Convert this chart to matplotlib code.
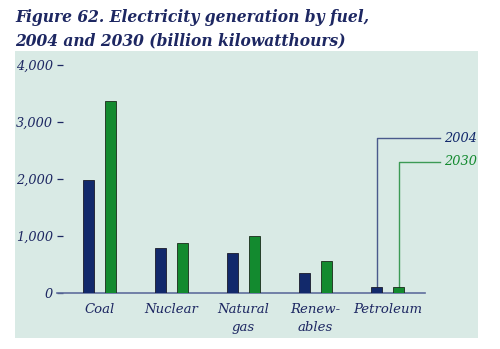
import matplotlib.pyplot as plt
import numpy as np
from matplotlib.patches import Rectangle

# electricity generation by fuel, billion kWh
fuels = ["Coal", "Nuclear", "Natural\ngas", "Renew-\nables", "Petroleum"]
gen_2004 = [1980, 800, 700, 360, 115]
gen_2030 = [3365, 875, 1000, 565, 115]
years = ["2004", "2030"]
yticks = [0, 1000, 2000, 3000, 4000]

navy = "#12296b"
green = "#138a2f"
text_col = "#1d2762"
bg = "#d9eae5"

plt.rcParams["font.family"] = ["DejaVu Serif"]

fig = plt.figure(figsize=(5, 3.49), dpi=100)
fig.patch.set_facecolor("white")

# shaded panel behind the plot
fig.patches.append(Rectangle((15 / 500, 11 / 349), 463 / 500, 287 / 349,
                             transform=fig.transFigure, facecolor=bg,
                             edgecolor="none", zorder=-5))

fig.text(15 / 500, 1 - 17 / 349, "Figure 62. Electricity generation by fuel,",
         fontsize=11.2, fontweight="bold", style="italic", color=text_col,
         va="center", ha="left")
fig.text(15 / 500, 1 - 41 / 349, "2004 and 2030 (billion kilowatthours)",
         fontsize=11.2, fontweight="bold", style="italic", color=text_col,
         va="center", ha="left")

ax = fig.add_axes([57 / 500, (349 - 293.3) / 349, 368 / 500, 228.6 / 349])
ax.set_facecolor("none")

x = np.arange(len(fuels))
w = 0.16
off = 0.153
b1 = ax.bar(x - off, gen_2004, w, color=navy, edgecolor="#1a1a2a", linewidth=0.6, zorder=3)
b2 = ax.bar(x + off, gen_2030, w, color=green, edgecolor="#1a2a1a", linewidth=0.6, zorder=3)

ax.set_xlim(-0.59, 4.52)
ax.set_ylim(0, 4000)

for s in ["top", "right", "left"]:
    ax.spines[s].set_visible(False)
ax.spines["bottom"].set_color("#5f6e9c")
ax.spines["bottom"].set_linewidth(1.2)

ax.set_yticks(yticks)
ax.set_yticklabels([f"{v:,}" for v in yticks], fontsize=9.3, style="italic",
                   color=text_col)
ax.tick_params(axis="y", direction="in", length=4, width=0.9, color=text_col, pad=3)
ax.set_xticks(x)
ax.set_xticklabels(fuels, fontsize=9.5, style="italic", color=text_col,
                   linespacing=1.5)
ax.tick_params(axis="x", length=0, pad=7)

# leader lines from the petroleum bars to the series labels
px = x[-1]
ax.plot([px - off, px - off, 4.73], [gen_2004[-1], 2715, 2715], color="#4a5a8c",
        linewidth=1, clip_on=False, zorder=2)
ax.plot([px + off, px + off, 4.73], [gen_2030[-1], 2300, 2300], color="#3c9a55",
        linewidth=1, clip_on=False, zorder=2)
ax.text(4.785, 2715, years[0], fontsize=9.3, style="italic", color=navy,
        va="center", ha="left", clip_on=False)
ax.text(4.785, 2300, years[1], fontsize=9.3, style="italic", color=green,
        va="center", ha="left", clip_on=False)

fig.savefig("out.png", dpi=100)
